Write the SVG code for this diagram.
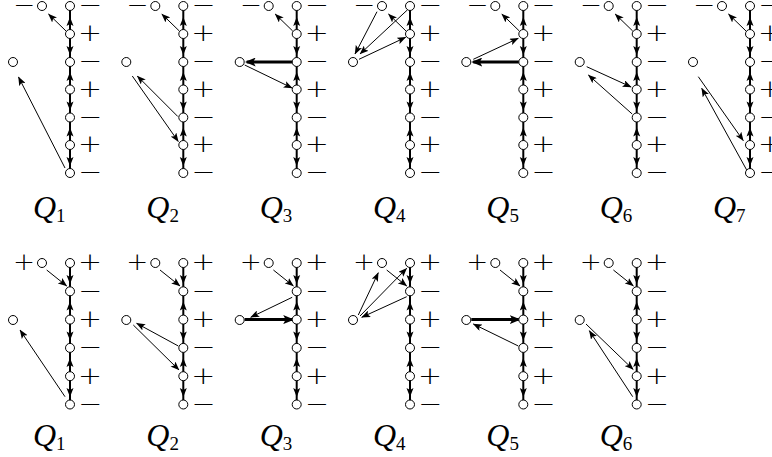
<svg xmlns="http://www.w3.org/2000/svg" xmlns:xlink="http://www.w3.org/1999/xlink" width="772" height="457" viewBox="0 0 772 457">
<style>
circle{fill:#fff;stroke:#000;stroke-width:1}
.col{stroke:#000;stroke-width:2;fill:none}
.e{stroke:#000;stroke-width:1;fill:none;marker-end:url(#mt)}
.E{stroke:#000;stroke-width:3;fill:none;marker-end:url(#mT)}
.s{font-family:"DejaVu Sans",sans-serif;font-weight:200;font-size:24px;fill:#000;transform:rotate(0.01deg)}
.sl{text-anchor:end}
.q{font-family:"Liberation Serif",serif;font-size:32px;font-style:italic;fill:#000}
.q tspan{font-style:normal;font-size:19px}
</style>
<defs>
<marker id="mt" markerUnits="userSpaceOnUse" viewBox="0 0 9 7" markerWidth="9" markerHeight="7" refX="8.5" refY="3.5" orient="auto"><path d="M0,0 L9,3.5 L0,7 L2,3.5 z" fill="#000"/></marker>
<marker id="mT" markerUnits="userSpaceOnUse" viewBox="0 0 11 9" markerWidth="11" markerHeight="9" refX="9" refY="4.5" orient="auto"><path d="M0,0 L11,4.5 L0,9 L2.5,4.5 z" fill="#000"/></marker>
<path id="aD" d="M0,0 L-3.5,-9 L0,-7 L3.5,-9 z" fill="#000"/>
<path id="aU" d="M0,0 L-3.5,9 L0,7 L3.5,9 z" fill="#000"/>
<g id="col1">
<line class="col" x1="0" y1="6" x2="0" y2="173"/>
<use xlink:href="#aU" y="17"/><use xlink:href="#aD" y="55"/><use xlink:href="#aU" y="72"/><use xlink:href="#aD" y="110.5"/><use xlink:href="#aU" y="127.5"/><use xlink:href="#aD" y="166"/>
<line class="e" x1="-4" y1="31" x2="-21.5" y2="14"/>
</g>
<g id="col2">
<line class="col" x1="0" y1="263" x2="0" y2="404.5"/>
<use xlink:href="#aD" y="284"/><use xlink:href="#aU" y="301.5"/><use xlink:href="#aD" y="340.5"/><use xlink:href="#aU" y="358"/><use xlink:href="#aD" y="397"/>
<line class="e" x1="-23.3" y1="270" x2="-3.3" y2="286"/>
</g>
</defs>

<!-- ROW 1 -->
<g id="r1q1" transform="translate(70,0)">
<g id="r1q1-edges"><use xlink:href="#col1"/><line class="e" x1="-5" y1="168" x2="-51.5" y2="77"/></g>
<g id="r1q1-t"><circle cx="-28" cy="6" r="4.5"/><text class="s sl" x="-35" y="13.3" textLength="22" lengthAdjust="spacingAndGlyphs">−</text></g>
<g id="r1q1-i"><circle cx="-57" cy="62" r="4.5"/></g>
<g id="r1q1-0"><circle cx="0" cy="6" r="4.5"/><text class="s" x="8" y="13.3" textLength="24" lengthAdjust="spacingAndGlyphs">−</text></g>
<g id="r1q1-1"><circle cx="0" cy="34" r="4.5"/><text class="s" x="8" y="41.3" textLength="24" lengthAdjust="spacingAndGlyphs">+</text></g>
<g id="r1q1-2"><circle cx="0" cy="62" r="4.5"/><text class="s" x="8" y="69.3" textLength="24" lengthAdjust="spacingAndGlyphs">−</text></g>
<g id="r1q1-3"><circle cx="0" cy="89.5" r="4.5"/><text class="s" x="8" y="96.8" textLength="24" lengthAdjust="spacingAndGlyphs">+</text></g>
<g id="r1q1-4"><circle cx="0" cy="117.5" r="4.5"/><text class="s" x="8" y="124.8" textLength="24" lengthAdjust="spacingAndGlyphs">−</text></g>
<g id="r1q1-5"><circle cx="0" cy="145" r="4.5"/><text class="s" x="8" y="152.3" textLength="24" lengthAdjust="spacingAndGlyphs">+</text></g>
<g id="r1q1-6"><circle cx="0" cy="173" r="4.5"/><text class="s" x="8" y="180.3" textLength="24" lengthAdjust="spacingAndGlyphs">−</text></g>
<text class="q" x="-37" y="218">Q<tspan dy="4">1</tspan></text>
</g>

<g id="r1q2" transform="translate(183.3,0)">
<g id="r1q2-edges"><use xlink:href="#col1"/><line class="e" x1="-5.5" y1="116.5" x2="-46" y2="76"/><line class="e" x1="-51" y1="76" x2="-5" y2="141.5"/></g>
<g id="r1q2-t"><circle cx="-28" cy="6" r="4.5"/><text class="s sl" x="-35" y="13.3" textLength="22" lengthAdjust="spacingAndGlyphs">−</text></g>
<g id="r1q2-i"><circle cx="-57" cy="62" r="4.5"/></g>
<g id="r1q2-0"><circle cx="0" cy="6" r="4.5"/><text class="s" x="8" y="13.3" textLength="24" lengthAdjust="spacingAndGlyphs">−</text></g>
<g id="r1q2-1"><circle cx="0" cy="34" r="4.5"/><text class="s" x="8" y="41.3" textLength="24" lengthAdjust="spacingAndGlyphs">+</text></g>
<g id="r1q2-2"><circle cx="0" cy="62" r="4.5"/><text class="s" x="8" y="69.3" textLength="24" lengthAdjust="spacingAndGlyphs">−</text></g>
<g id="r1q2-3"><circle cx="0" cy="89.5" r="4.5"/><text class="s" x="8" y="96.8" textLength="24" lengthAdjust="spacingAndGlyphs">+</text></g>
<g id="r1q2-4"><circle cx="0" cy="117.5" r="4.5"/><text class="s" x="8" y="124.8" textLength="24" lengthAdjust="spacingAndGlyphs">−</text></g>
<g id="r1q2-5"><circle cx="0" cy="145" r="4.5"/><text class="s" x="8" y="152.3" textLength="24" lengthAdjust="spacingAndGlyphs">+</text></g>
<g id="r1q2-6"><circle cx="0" cy="173" r="4.5"/><text class="s" x="8" y="180.3" textLength="24" lengthAdjust="spacingAndGlyphs">−</text></g>
<text class="q" x="-37" y="218">Q<tspan dy="4">2</tspan></text>
</g>

<g id="r1q3" transform="translate(296.7,0)">
<g id="r1q3-edges"><use xlink:href="#col1"/><line class="E" x1="-4.5" y1="62" x2="-50" y2="62"/><line class="e" x1="-52" y1="65" x2="-4.5" y2="88"/></g>
<g id="r1q3-t"><circle cx="-28" cy="6" r="4.5"/><text class="s sl" x="-35" y="13.3" textLength="22" lengthAdjust="spacingAndGlyphs">−</text></g>
<g id="r1q3-i"><circle cx="-57" cy="62" r="4.5"/></g>
<g id="r1q3-0"><circle cx="0" cy="6" r="4.5"/><text class="s" x="8" y="13.3" textLength="24" lengthAdjust="spacingAndGlyphs">−</text></g>
<g id="r1q3-1"><circle cx="0" cy="34" r="4.5"/><text class="s" x="8" y="41.3" textLength="24" lengthAdjust="spacingAndGlyphs">+</text></g>
<g id="r1q3-2"><circle cx="0" cy="62" r="4.5"/><text class="s" x="8" y="69.3" textLength="24" lengthAdjust="spacingAndGlyphs">−</text></g>
<g id="r1q3-3"><circle cx="0" cy="89.5" r="4.5"/><text class="s" x="8" y="96.8" textLength="24" lengthAdjust="spacingAndGlyphs">+</text></g>
<g id="r1q3-4"><circle cx="0" cy="117.5" r="4.5"/><text class="s" x="8" y="124.8" textLength="24" lengthAdjust="spacingAndGlyphs">−</text></g>
<g id="r1q3-5"><circle cx="0" cy="145" r="4.5"/><text class="s" x="8" y="152.3" textLength="24" lengthAdjust="spacingAndGlyphs">+</text></g>
<g id="r1q3-6"><circle cx="0" cy="173" r="4.5"/><text class="s" x="8" y="180.3" textLength="24" lengthAdjust="spacingAndGlyphs">−</text></g>
<text class="q" x="-37" y="218">Q<tspan dy="4">3</tspan></text>
</g>

<g id="r1q4" transform="translate(410,0)">
<g id="r1q4-edges"><use xlink:href="#col1"/><line class="e" x1="-33" y1="11.7" x2="-55" y2="54"/><line class="e" x1="-2.7" y1="10" x2="-50" y2="54"/><line class="e" x1="-51" y1="59.3" x2="-4.3" y2="37.3"/></g>
<g id="r1q4-t"><circle cx="-28" cy="6" r="4.5"/><text class="s sl" x="-35" y="13.3" textLength="22" lengthAdjust="spacingAndGlyphs">−</text></g>
<g id="r1q4-i"><circle cx="-57" cy="62" r="4.5"/></g>
<g id="r1q4-0"><circle cx="0" cy="6" r="4.5"/><text class="s" x="8" y="13.3" textLength="24" lengthAdjust="spacingAndGlyphs">−</text></g>
<g id="r1q4-1"><circle cx="0" cy="34" r="4.5"/><text class="s" x="8" y="41.3" textLength="24" lengthAdjust="spacingAndGlyphs">+</text></g>
<g id="r1q4-2"><circle cx="0" cy="62" r="4.5"/><text class="s" x="8" y="69.3" textLength="24" lengthAdjust="spacingAndGlyphs">−</text></g>
<g id="r1q4-3"><circle cx="0" cy="89.5" r="4.5"/><text class="s" x="8" y="96.8" textLength="24" lengthAdjust="spacingAndGlyphs">+</text></g>
<g id="r1q4-4"><circle cx="0" cy="117.5" r="4.5"/><text class="s" x="8" y="124.8" textLength="24" lengthAdjust="spacingAndGlyphs">−</text></g>
<g id="r1q4-5"><circle cx="0" cy="145" r="4.5"/><text class="s" x="8" y="152.3" textLength="24" lengthAdjust="spacingAndGlyphs">+</text></g>
<g id="r1q4-6"><circle cx="0" cy="173" r="4.5"/><text class="s" x="8" y="180.3" textLength="24" lengthAdjust="spacingAndGlyphs">−</text></g>
<text class="q" x="-37" y="218">Q<tspan dy="4">4</tspan></text>
</g>

<g id="r1q5" transform="translate(523.3,0)">
<g id="r1q5-edges"><use xlink:href="#col1"/><line class="e" x1="-50" y1="59.3" x2="-5" y2="38.3"/><line class="E" x1="-4.5" y1="62" x2="-50" y2="62"/></g>
<g id="r1q5-t"><circle cx="-28" cy="6" r="4.5"/><text class="s sl" x="-35" y="13.3" textLength="22" lengthAdjust="spacingAndGlyphs">−</text></g>
<g id="r1q5-i"><circle cx="-57" cy="62" r="4.5"/></g>
<g id="r1q5-0"><circle cx="0" cy="6" r="4.5"/><text class="s" x="8" y="13.3" textLength="24" lengthAdjust="spacingAndGlyphs">−</text></g>
<g id="r1q5-1"><circle cx="0" cy="34" r="4.5"/><text class="s" x="8" y="41.3" textLength="24" lengthAdjust="spacingAndGlyphs">+</text></g>
<g id="r1q5-2"><circle cx="0" cy="62" r="4.5"/><text class="s" x="8" y="69.3" textLength="24" lengthAdjust="spacingAndGlyphs">−</text></g>
<g id="r1q5-3"><circle cx="0" cy="89.5" r="4.5"/><text class="s" x="8" y="96.8" textLength="24" lengthAdjust="spacingAndGlyphs">+</text></g>
<g id="r1q5-4"><circle cx="0" cy="117.5" r="4.5"/><text class="s" x="8" y="124.8" textLength="24" lengthAdjust="spacingAndGlyphs">−</text></g>
<g id="r1q5-5"><circle cx="0" cy="145" r="4.5"/><text class="s" x="8" y="152.3" textLength="24" lengthAdjust="spacingAndGlyphs">+</text></g>
<g id="r1q5-6"><circle cx="0" cy="173" r="4.5"/><text class="s" x="8" y="180.3" textLength="24" lengthAdjust="spacingAndGlyphs">−</text></g>
<text class="q" x="-37" y="218">Q<tspan dy="4">5</tspan></text>
</g>

<g id="r1q6" transform="translate(636.7,0)">
<g id="r1q6-edges"><use xlink:href="#col1"/><line class="e" x1="-50" y1="66.7" x2="-5.5" y2="87"/><line class="e" x1="-4.5" y1="114" x2="-48.3" y2="75"/></g>
<g id="r1q6-t"><circle cx="-28" cy="6" r="4.5"/><text class="s sl" x="-35" y="13.3" textLength="22" lengthAdjust="spacingAndGlyphs">−</text></g>
<g id="r1q6-i"><circle cx="-57" cy="62" r="4.5"/></g>
<g id="r1q6-0"><circle cx="0" cy="6" r="4.5"/><text class="s" x="8" y="13.3" textLength="24" lengthAdjust="spacingAndGlyphs">−</text></g>
<g id="r1q6-1"><circle cx="0" cy="34" r="4.5"/><text class="s" x="8" y="41.3" textLength="24" lengthAdjust="spacingAndGlyphs">+</text></g>
<g id="r1q6-2"><circle cx="0" cy="62" r="4.5"/><text class="s" x="8" y="69.3" textLength="24" lengthAdjust="spacingAndGlyphs">−</text></g>
<g id="r1q6-3"><circle cx="0" cy="89.5" r="4.5"/><text class="s" x="8" y="96.8" textLength="24" lengthAdjust="spacingAndGlyphs">+</text></g>
<g id="r1q6-4"><circle cx="0" cy="117.5" r="4.5"/><text class="s" x="8" y="124.8" textLength="24" lengthAdjust="spacingAndGlyphs">−</text></g>
<g id="r1q6-5"><circle cx="0" cy="145" r="4.5"/><text class="s" x="8" y="152.3" textLength="24" lengthAdjust="spacingAndGlyphs">+</text></g>
<g id="r1q6-6"><circle cx="0" cy="173" r="4.5"/><text class="s" x="8" y="180.3" textLength="24" lengthAdjust="spacingAndGlyphs">−</text></g>
<text class="q" x="-37" y="218">Q<tspan dy="4">6</tspan></text>
</g>

<g id="r1q7" transform="translate(750,0)">
<g id="r1q7-edges"><use xlink:href="#col1"/><line class="e" x1="-51.7" y1="76.7" x2="-6.7" y2="140.7"/><line class="e" x1="-3.3" y1="170" x2="-48.3" y2="88.3"/></g>
<g id="r1q7-t"><circle cx="-28" cy="6" r="4.5"/><text class="s sl" x="-35" y="13.3" textLength="22" lengthAdjust="spacingAndGlyphs">−</text></g>
<g id="r1q7-i"><circle cx="-57" cy="62" r="4.5"/></g>
<g id="r1q7-0"><circle cx="0" cy="6" r="4.5"/><text class="s" x="8" y="13.3" textLength="24" lengthAdjust="spacingAndGlyphs">−</text></g>
<g id="r1q7-1"><circle cx="0" cy="34" r="4.5"/><text class="s" x="8" y="41.3" textLength="24" lengthAdjust="spacingAndGlyphs">+</text></g>
<g id="r1q7-2"><circle cx="0" cy="62" r="4.5"/><text class="s" x="8" y="69.3" textLength="24" lengthAdjust="spacingAndGlyphs">−</text></g>
<g id="r1q7-3"><circle cx="0" cy="89.5" r="4.5"/><text class="s" x="8" y="96.8" textLength="24" lengthAdjust="spacingAndGlyphs">+</text></g>
<g id="r1q7-4"><circle cx="0" cy="117.5" r="4.5"/><text class="s" x="8" y="124.8" textLength="24" lengthAdjust="spacingAndGlyphs">−</text></g>
<g id="r1q7-5"><circle cx="0" cy="145" r="4.5"/><text class="s" x="8" y="152.3" textLength="24" lengthAdjust="spacingAndGlyphs">+</text></g>
<g id="r1q7-6"><circle cx="0" cy="173" r="4.5"/><text class="s" x="8" y="180.3" textLength="24" lengthAdjust="spacingAndGlyphs">−</text></g>
<text class="q" x="-37" y="218">Q<tspan dy="4">7</tspan></text>
</g>

<!-- ROW 2 -->
<g id="r2q1" transform="translate(70,0)">
<g id="r2q1-edges"><use xlink:href="#col2"/><line class="e" x1="-5" y1="396.7" x2="-50" y2="330"/></g>
<g id="r2q1-t"><circle cx="-28" cy="263" r="4.5"/><text class="s sl" x="-35" y="270.3" textLength="22" lengthAdjust="spacingAndGlyphs">+</text></g>
<g id="r2q1-i"><circle cx="-57" cy="320" r="4.5"/></g>
<g id="r2q1-0"><circle cx="0" cy="263" r="4.5"/><text class="s" x="8" y="270.3" textLength="24" lengthAdjust="spacingAndGlyphs">+</text></g>
<g id="r2q1-1"><circle cx="0" cy="291.3" r="4.5"/><text class="s" x="8" y="298.6" textLength="24" lengthAdjust="spacingAndGlyphs">−</text></g>
<g id="r2q1-2"><circle cx="0" cy="319.6" r="4.5"/><text class="s" x="8" y="326.9" textLength="24" lengthAdjust="spacingAndGlyphs">+</text></g>
<g id="r2q1-3"><circle cx="0" cy="347.9" r="4.5"/><text class="s" x="8" y="355.2" textLength="24" lengthAdjust="spacingAndGlyphs">−</text></g>
<g id="r2q1-4"><circle cx="0" cy="376.2" r="4.5"/><text class="s" x="8" y="383.5" textLength="24" lengthAdjust="spacingAndGlyphs">+</text></g>
<g id="r2q1-5"><circle cx="0" cy="404.5" r="4.5"/><text class="s" x="8" y="411.8" textLength="24" lengthAdjust="spacingAndGlyphs">−</text></g>
<text class="q" x="-37" y="446">Q<tspan dy="4">1</tspan></text>
</g>

<g id="r2q2" transform="translate(183.3,0)">
<g id="r2q2-edges"><use xlink:href="#col2"/><line class="e" x1="-5" y1="346" x2="-46.7" y2="323.3"/><line class="e" x1="-50" y1="325" x2="-4.3" y2="370"/></g>
<g id="r2q2-t"><circle cx="-28" cy="263" r="4.5"/><text class="s sl" x="-35" y="270.3" textLength="22" lengthAdjust="spacingAndGlyphs">+</text></g>
<g id="r2q2-i"><circle cx="-57" cy="320" r="4.5"/></g>
<g id="r2q2-0"><circle cx="0" cy="263" r="4.5"/><text class="s" x="8" y="270.3" textLength="24" lengthAdjust="spacingAndGlyphs">+</text></g>
<g id="r2q2-1"><circle cx="0" cy="291.3" r="4.5"/><text class="s" x="8" y="298.6" textLength="24" lengthAdjust="spacingAndGlyphs">−</text></g>
<g id="r2q2-2"><circle cx="0" cy="319.6" r="4.5"/><text class="s" x="8" y="326.9" textLength="24" lengthAdjust="spacingAndGlyphs">+</text></g>
<g id="r2q2-3"><circle cx="0" cy="347.9" r="4.5"/><text class="s" x="8" y="355.2" textLength="24" lengthAdjust="spacingAndGlyphs">−</text></g>
<g id="r2q2-4"><circle cx="0" cy="376.2" r="4.5"/><text class="s" x="8" y="383.5" textLength="24" lengthAdjust="spacingAndGlyphs">+</text></g>
<g id="r2q2-5"><circle cx="0" cy="404.5" r="4.5"/><text class="s" x="8" y="411.8" textLength="24" lengthAdjust="spacingAndGlyphs">−</text></g>
<text class="q" x="-37" y="446">Q<tspan dy="4">2</tspan></text>
</g>

<g id="r2q3" transform="translate(296.7,0)">
<g id="r2q3-edges"><use xlink:href="#col2"/><line class="e" x1="-4.5" y1="297.3" x2="-46" y2="317.3"/><line class="E" x1="-52" y1="319.6" x2="-4.5" y2="319.6"/></g>
<g id="r2q3-t"><circle cx="-28" cy="263" r="4.5"/><text class="s sl" x="-35" y="270.3" textLength="22" lengthAdjust="spacingAndGlyphs">+</text></g>
<g id="r2q3-i"><circle cx="-57" cy="320" r="4.5"/></g>
<g id="r2q3-0"><circle cx="0" cy="263" r="4.5"/><text class="s" x="8" y="270.3" textLength="24" lengthAdjust="spacingAndGlyphs">+</text></g>
<g id="r2q3-1"><circle cx="0" cy="291.3" r="4.5"/><text class="s" x="8" y="298.6" textLength="24" lengthAdjust="spacingAndGlyphs">−</text></g>
<g id="r2q3-2"><circle cx="0" cy="319.6" r="4.5"/><text class="s" x="8" y="326.9" textLength="24" lengthAdjust="spacingAndGlyphs">+</text></g>
<g id="r2q3-3"><circle cx="0" cy="347.9" r="4.5"/><text class="s" x="8" y="355.2" textLength="24" lengthAdjust="spacingAndGlyphs">−</text></g>
<g id="r2q3-4"><circle cx="0" cy="376.2" r="4.5"/><text class="s" x="8" y="383.5" textLength="24" lengthAdjust="spacingAndGlyphs">+</text></g>
<g id="r2q3-5"><circle cx="0" cy="404.5" r="4.5"/><text class="s" x="8" y="411.8" textLength="24" lengthAdjust="spacingAndGlyphs">−</text></g>
<text class="q" x="-37" y="446">Q<tspan dy="4">3</tspan></text>
</g>

<g id="r2q4" transform="translate(410,0)">
<g id="r2q4-edges"><use xlink:href="#col2"/><line class="e" x1="-51.7" y1="315" x2="-31.7" y2="272.7"/><line class="e" x1="-50" y1="316" x2="-3.3" y2="268.3"/><line class="e" x1="-3.3" y1="296.7" x2="-48.3" y2="317.3"/></g>
<g id="r2q4-t"><circle cx="-28" cy="263" r="4.5"/><text class="s sl" x="-35" y="270.3" textLength="22" lengthAdjust="spacingAndGlyphs">+</text></g>
<g id="r2q4-i"><circle cx="-57" cy="320" r="4.5"/></g>
<g id="r2q4-0"><circle cx="0" cy="263" r="4.5"/><text class="s" x="8" y="270.3" textLength="24" lengthAdjust="spacingAndGlyphs">+</text></g>
<g id="r2q4-1"><circle cx="0" cy="291.3" r="4.5"/><text class="s" x="8" y="298.6" textLength="24" lengthAdjust="spacingAndGlyphs">−</text></g>
<g id="r2q4-2"><circle cx="0" cy="319.6" r="4.5"/><text class="s" x="8" y="326.9" textLength="24" lengthAdjust="spacingAndGlyphs">+</text></g>
<g id="r2q4-3"><circle cx="0" cy="347.9" r="4.5"/><text class="s" x="8" y="355.2" textLength="24" lengthAdjust="spacingAndGlyphs">−</text></g>
<g id="r2q4-4"><circle cx="0" cy="376.2" r="4.5"/><text class="s" x="8" y="383.5" textLength="24" lengthAdjust="spacingAndGlyphs">+</text></g>
<g id="r2q4-5"><circle cx="0" cy="404.5" r="4.5"/><text class="s" x="8" y="411.8" textLength="24" lengthAdjust="spacingAndGlyphs">−</text></g>
<text class="q" x="-37" y="446">Q<tspan dy="4">4</tspan></text>
</g>

<g id="r2q5" transform="translate(523.3,0)">
<g id="r2q5-edges"><use xlink:href="#col2"/><line class="E" x1="-52" y1="319.6" x2="-4.5" y2="319.6"/><line class="e" x1="-5" y1="346" x2="-50" y2="324"/></g>
<g id="r2q5-t"><circle cx="-28" cy="263" r="4.5"/><text class="s sl" x="-35" y="270.3" textLength="22" lengthAdjust="spacingAndGlyphs">+</text></g>
<g id="r2q5-i"><circle cx="-57" cy="320" r="4.5"/></g>
<g id="r2q5-0"><circle cx="0" cy="263" r="4.5"/><text class="s" x="8" y="270.3" textLength="24" lengthAdjust="spacingAndGlyphs">+</text></g>
<g id="r2q5-1"><circle cx="0" cy="291.3" r="4.5"/><text class="s" x="8" y="298.6" textLength="24" lengthAdjust="spacingAndGlyphs">−</text></g>
<g id="r2q5-2"><circle cx="0" cy="319.6" r="4.5"/><text class="s" x="8" y="326.9" textLength="24" lengthAdjust="spacingAndGlyphs">+</text></g>
<g id="r2q5-3"><circle cx="0" cy="347.9" r="4.5"/><text class="s" x="8" y="355.2" textLength="24" lengthAdjust="spacingAndGlyphs">−</text></g>
<g id="r2q5-4"><circle cx="0" cy="376.2" r="4.5"/><text class="s" x="8" y="383.5" textLength="24" lengthAdjust="spacingAndGlyphs">+</text></g>
<g id="r2q5-5"><circle cx="0" cy="404.5" r="4.5"/><text class="s" x="8" y="411.8" textLength="24" lengthAdjust="spacingAndGlyphs">−</text></g>
<text class="q" x="-37" y="446">Q<tspan dy="4">5</tspan></text>
</g>

<g id="r2q6" transform="translate(636.7,0)">
<g id="r2q6-edges"><use xlink:href="#col2"/><line class="e" x1="-50.7" y1="324" x2="-3.5" y2="369.5"/><line class="e" x1="-4" y1="396.7" x2="-47.4" y2="330.7"/></g>
<g id="r2q6-t"><circle cx="-28" cy="263" r="4.5"/><text class="s sl" x="-35" y="270.3" textLength="22" lengthAdjust="spacingAndGlyphs">+</text></g>
<g id="r2q6-i"><circle cx="-57" cy="320" r="4.5"/></g>
<g id="r2q6-0"><circle cx="0" cy="263" r="4.5"/><text class="s" x="8" y="270.3" textLength="24" lengthAdjust="spacingAndGlyphs">+</text></g>
<g id="r2q6-1"><circle cx="0" cy="291.3" r="4.5"/><text class="s" x="8" y="298.6" textLength="24" lengthAdjust="spacingAndGlyphs">−</text></g>
<g id="r2q6-2"><circle cx="0" cy="319.6" r="4.5"/><text class="s" x="8" y="326.9" textLength="24" lengthAdjust="spacingAndGlyphs">+</text></g>
<g id="r2q6-3"><circle cx="0" cy="347.9" r="4.5"/><text class="s" x="8" y="355.2" textLength="24" lengthAdjust="spacingAndGlyphs">−</text></g>
<g id="r2q6-4"><circle cx="0" cy="376.2" r="4.5"/><text class="s" x="8" y="383.5" textLength="24" lengthAdjust="spacingAndGlyphs">+</text></g>
<g id="r2q6-5"><circle cx="0" cy="404.5" r="4.5"/><text class="s" x="8" y="411.8" textLength="24" lengthAdjust="spacingAndGlyphs">−</text></g>
<text class="q" x="-37" y="446">Q<tspan dy="4">6</tspan></text>
</g>
</svg>
